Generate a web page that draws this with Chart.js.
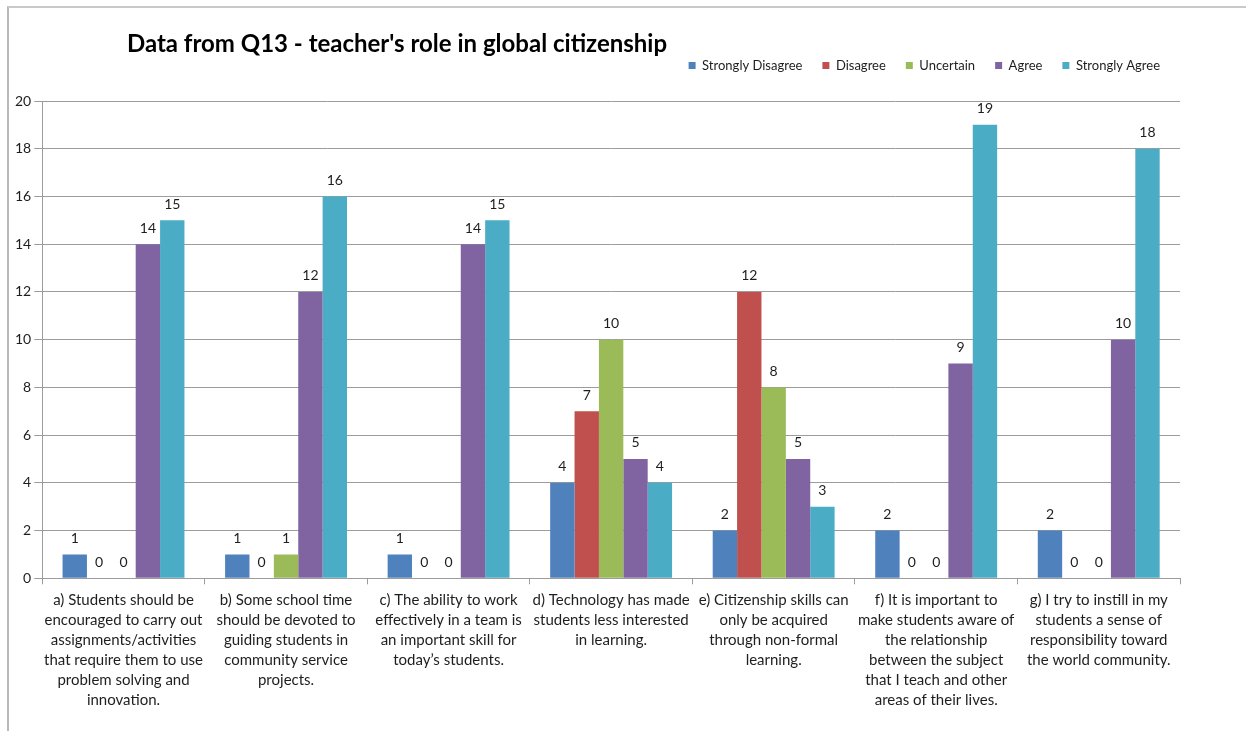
<!DOCTYPE html>
<html>
<head>
<meta charset="utf-8">
<title>Data from Q13 - teacher's role in global citizenship</title>
<script src="https://cdn.jsdelivr.net/npm/chart.js@4.4.1/dist/chart.umd.min.js"></script>
<style>
  html, body { margin: 0; padding: 0; background: #fff; }
  #wrap { position: relative; width: 1250px; height: 731px; overflow: hidden; }
  #frame { position: absolute; left: 7px; top: 6px; right: 4px; bottom: -4px; border-top: 2px solid #c9c9c9; border-left: 2px solid #b9b9b9; }
  canvas { position: absolute; left: 0; top: 0; }
</style>
</head>
<body>
<div id="wrap">
  <div id="frame"></div>
  <canvas id="chart" width="1250" height="731"></canvas>
</div>
<script>
const fontFamily = "Lato, 'Open Sans', sans-serif";
const textColor = "#1e1e1e";
const gridColor = "#9c9c9c";

const chartTitle = "Data from Q13 - teacher's role in global citizenship";

// one entry per statement, already broken into lines
const categories = [
  ["a) Students should be", "encouraged to carry out", "assignments/activities", "that require them to use", "problem solving and", "innovation."],
  ["b) Some school time", "should be devoted to", "guiding students in", "community service", "projects."],
  ["c) The ability to work", "effectively in a team is", "an important skill for", "today\u2019s students."],
  ["d) Technology has made", "students less interested", "in learning."],
  ["e) Citizenship skills can", "only be acquired", "through non-formal", "learning."],
  ["f) It is important to", "make students aware of", "the relationship", "between the subject", "that I teach and other", "areas of their lives."],
  ["g) I try to instill in my", "students a sense of", "responsibility toward", "the world community."],
];

const seriesNames = ["Strongly Disagree", "Disagree", "Uncertain", "Agree", "Strongly Agree"];
const seriesColors = ["#4F81BD", "#C0504D", "#9BBB59", "#8064A2", "#4BACC6"];

const stronglyDisagree = [1, 1, 1, 4, 2, 2, 2];
const disagree = [0, 0, 0, 7, 12, 0, 0];
const uncertain = [0, 1, 0, 10, 8, 0, 0];
const agree = [14, 12, 14, 5, 5, 9, 10];
const stronglyAgree = [15, 16, 15, 4, 3, 19, 18];

const yMin = 0;
const yMax = 20;
const yStep = 2;

const seriesValues = [stronglyDisagree, disagree, uncertain, agree, stronglyAgree];

// count printed above every bar, zeros included
const valueLabels = {
  id: "valueLabels",
  afterDatasetsDraw(chart) {
    const { ctx } = chart;
    ctx.save();
    ctx.font = "14px " + fontFamily;
    ctx.fillStyle = textColor;
    ctx.textAlign = "center";
    ctx.textBaseline = "middle";
    chart.data.datasets.forEach((ds, i) => {
      chart.getDatasetMeta(i).data.forEach((bar, j) => {
        ctx.fillText(String(ds.data[j]), bar.x, bar.y - 16);
      });
    });
    ctx.restore();
  },
};

// the title sits left of centre, above the legend row
const titleText = {
  id: "titleText",
  afterDraw(chart) {
    const { ctx } = chart;
    ctx.save();
    ctx.font = "bold 24px " + fontFamily;
    ctx.fillStyle = "#000";
    ctx.textAlign = "center";
    ctx.textBaseline = "middle";
    ctx.fillText(chartTitle, 397, 44);
    ctx.restore();
  },
};

new Chart(document.getElementById("chart"), {
  type: "bar",
  data: {
    labels: categories,
    datasets: seriesNames.map((name, i) => ({
      label: name,
      data: seriesValues[i],
      backgroundColor: seriesColors[i],
      borderWidth: 0,
      barPercentage: 1,
      categoryPercentage: 0.75,
    })),
  },
  options: {
    responsive: false,
    animation: false,
    layout: { padding: { top: 39, right: 70, left: 12, bottom: 15 } },
    plugins: {
      title: { display: false },
      // empty subtitle below the legend, used only as a spacer
      subtitle: {
        display: true,
        text: "",
        weight: 500,
        padding: 0,
        font: { size: 19, lineHeight: 1 },
      },
      tooltip: { enabled: false },
      legend: {
        position: "top",
        align: "end",
        labels: {
          boxWidth: 7,
          boxHeight: 7,
          padding: 20,
          color: textColor,
          font: { family: fontFamily, size: 13 },
        },
      },
    },
    scales: {
      x: {
        grid: { offset: true, drawOnChartArea: false, tickLength: 6, color: gridColor },
        border: { color: gridColor },
        ticks: {
          autoSkip: false,
          maxRotation: 0,
          minRotation: 0,
          padding: 6,
          color: textColor,
          font: { family: fontFamily, size: 15, lineHeight: 1.33 },
        },
      },
      y: {
        min: yMin,
        max: yMax,
        ticks: {
          stepSize: yStep,
          padding: 3,
          color: textColor,
          font: { family: fontFamily, size: 14 },
        },
        grid: { tickLength: 8, color: gridColor },
        border: { color: gridColor },
      },
    },
  },
  plugins: [valueLabels, titleText],
});
</script>
</body>
</html>
